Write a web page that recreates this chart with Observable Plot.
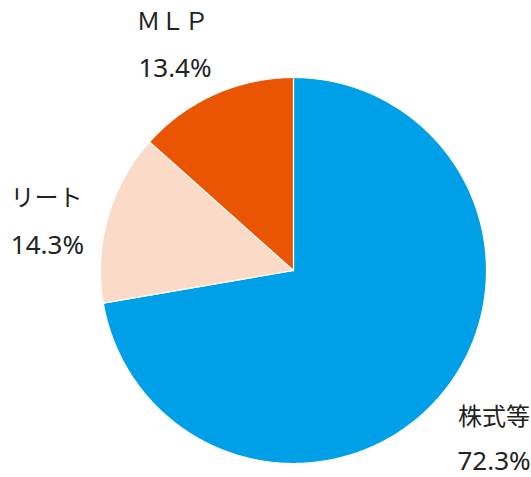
<!DOCTYPE html>
<html><head><meta charset="utf-8">
<script src="https://cdn.jsdelivr.net/npm/d3@7"></script>
<script src="https://cdn.jsdelivr.net/npm/@observablehq/plot@0.6"></script>
<style>body{margin:0;background:#fff}</style>
</head><body><div id="chart"></div>
<script>
const categories = ["株式等", "リート", "ＭＬＰ"];
const values = [72.3, 14.3, 13.4];
const valueLabels = ["72.3%", "14.3%", "13.4%"];
const colors = ["#00a0e9", "#fbdac8", "#ea5504"];

const total = d3.sum(values);
const slices = [];
let start = 0;
values.forEach((v, i) => {
  const a0 = start / total * 2 * Math.PI;
  const a1 = (start + v) / total * 2 * Math.PI;
  start += v;
  const n = Math.max(2, Math.ceil((a1 - a0) / 0.01));
  slices.push({cat: categories[i], x: 0, y: 0});
  for (let k = 0; k <= n; k++) {
    const a = a0 + (a1 - a0) * k / n;
    slices.push({cat: categories[i], x: Math.sin(a), y: Math.cos(a)});
  }
  slices.push({cat: categories[i], x: 0, y: 0});
});

// label anchor positions (data coords, unit radius): [category line, value line]
const catPos = [[1.039, -0.759], [-1.280, 0.376], [-0.627, 1.285]];
const valPos = [[1.039, -0.992], [-1.275, 0.130], [-0.614, 1.044]];
const catLabels = categories.map((c, i) => ({x: catPos[i][0], y: catPos[i][1], text: c}));
const valLabels = valueLabels.map((t, i) => ({x: valPos[i][0], y: valPos[i][1], text: t}));

const chart = Plot.plot({
  width: 531, height: 477,
  marginLeft: 100, marginRight: 45, marginTop: 77, marginBottom: 14,
  x: {domain: [-1, 1], axis: null},
  y: {domain: [-1, 1], axis: null},
  color: {domain: categories, range: colors},
  style: {fontFamily: "'Noto Sans', 'Noto Sans CJK JP', sans-serif", background: "#fff", overflow: "visible"},
  marks: [
    Plot.line(slices, {x: "x", y: "y", z: "cat", fill: "cat", stroke: "#fff", strokeWidth: 1.2, curve: "linear"}),
    Plot.text(catLabels, {x: "x", y: "y", text: "text", fontSize: 24, fill: "#222", fontFamily: "'Noto Sans CJK JP', sans-serif", clip: false}),
    Plot.text(valLabels, {x: "x", y: "y", text: "text", fontSize: 26, fill: "#222", fontFamily: "'Noto Sans', sans-serif", clip: false})
  ]
});
document.getElementById("chart").appendChild(chart);
</script></body></html>
